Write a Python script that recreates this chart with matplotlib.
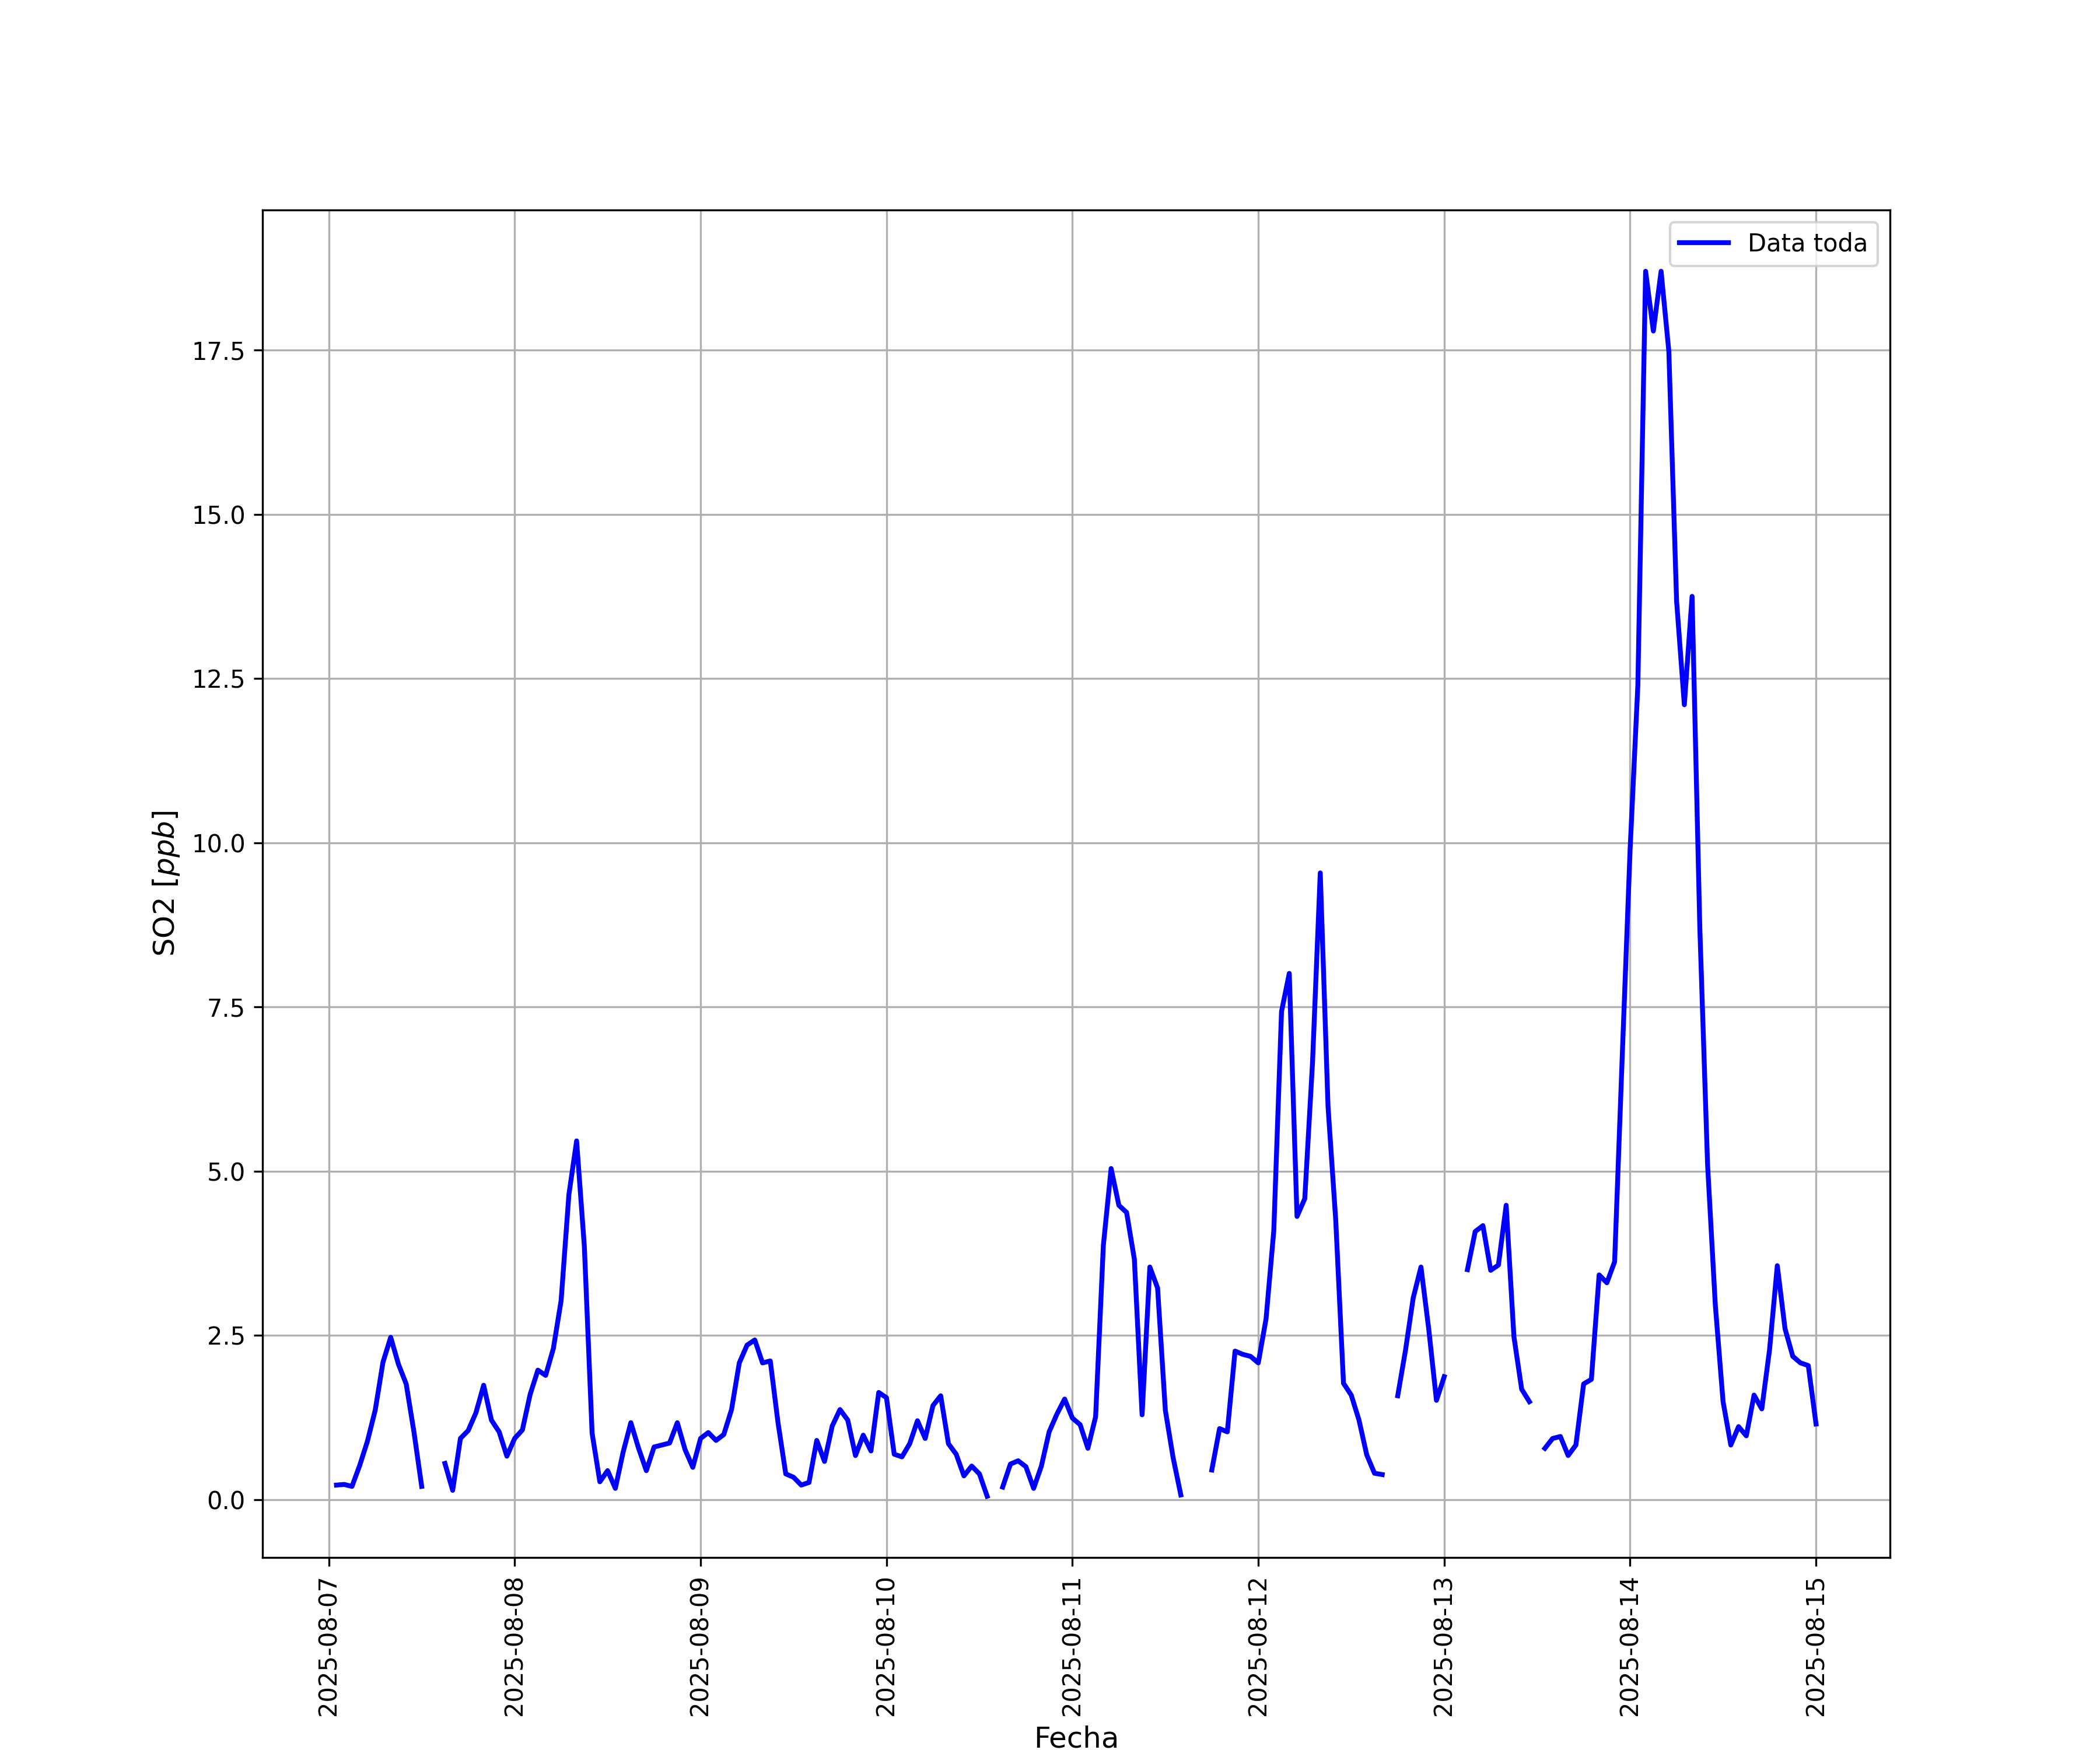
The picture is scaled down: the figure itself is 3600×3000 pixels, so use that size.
import numpy as np
import pandas as pd
import matplotlib
matplotlib.use("Agg")
import matplotlib.pyplot as plt
import matplotlib.dates as mdates

nan = np.nan
# Hourly SO2 values, each list = hours 01:00 .. 24:00 of the given day
day_0807 = [0.22, 0.23, 0.20, 0.52, 0.89, 1.36, 2.09, 2.47, 2.06, 1.76, 1.03, 0.20,
            nan, nan, 0.55, 0.14, 0.93, 1.05, 1.32, 1.74, 1.21, 1.03, 0.66, 0.93]
day_0808 = [1.06, 1.60, 1.97, 1.89, 2.30, 3.03, 4.64, 5.46, 3.85, 1.01, 0.27, 0.44,
            0.17, 0.72, 1.17, 0.78, 0.44, 0.80, 0.83, 0.86, 1.17, 0.76, 0.49, 0.93]
day_0809 = [1.02, 0.90, 0.99, 1.37, 2.08, 2.35, 2.43, 2.08, 2.11, 1.17, 0.39, 0.34,
            0.22, 0.26, 0.90, 0.58, 1.12, 1.37, 1.21, 0.67, 0.98, 0.74, 1.63, 1.55]
day_0810 = [0.69, 0.65, 0.85, 1.20, 0.93, 1.43, 1.58, 0.85, 0.69, 0.36, 0.51, 0.39,
            0.05, nan, 0.19, 0.54, 0.59, 0.50, 0.17, 0.51, 1.03, 1.30, 1.53, 1.24]
day_0811 = [1.14, 0.78, 1.26, 3.87, 5.04, 4.48, 4.37, 3.66, 1.29, 3.54, 3.22, 1.36,
            0.64, 0.07, nan, nan, nan, 0.45, 1.08, 1.03, 2.26, 2.21, 2.18, 2.08]
day_0812 = [2.75, 4.09, 7.43, 8.01, 4.31, 4.58, 6.65, 9.54, 5.99, 4.25, 1.77, 1.59,
            1.21, 0.68, 0.40, 0.38, nan, 1.58, 2.27, 3.07, 3.54, 2.60, 1.51, 1.87]
day_0813 = [nan, nan, 3.50, 4.08, 4.17, 3.49, 3.57, 4.48, 2.48, 1.68, 1.49, nan,
            0.78, 0.93, 0.96, 0.67, 0.83, 1.76, 1.83, 3.42, 3.30, 3.62, 6.80, 9.90]
day_0814 = [12.40, 18.70, 17.79, 18.70, 17.48, 13.68, 12.10, 13.75, 8.70, 5.10, 2.96, 1.49,
            0.83, 1.11, 0.97, 1.59, 1.38, 2.28, 3.56, 2.60, 2.18, 2.08, 2.04, 1.15]

so2 = (day_0807 + day_0808 + day_0809 + day_0810 +
       day_0811 + day_0812 + day_0813 + day_0814)
fechas = pd.date_range("2025-08-07 01:00", periods=len(so2), freq="h")

fig, ax = plt.subplots(figsize=(12, 10), dpi=300)
ax.plot(fechas, so2, color="blue", linewidth=2, label="Data toda")
ax.xaxis.set_major_locator(mdates.DayLocator())
ax.xaxis.set_major_formatter(mdates.DateFormatter("%Y-%m-%d"))
plt.setp(ax.get_xticklabels(), rotation=90)
ax.set_xlabel("Fecha", fontsize=12)
ax.set_ylabel("SO2 $[ppb]$", fontsize=12)
ax.grid(True)
ax.legend(loc="upper right")
fig.savefig("out.png", dpi=300)
